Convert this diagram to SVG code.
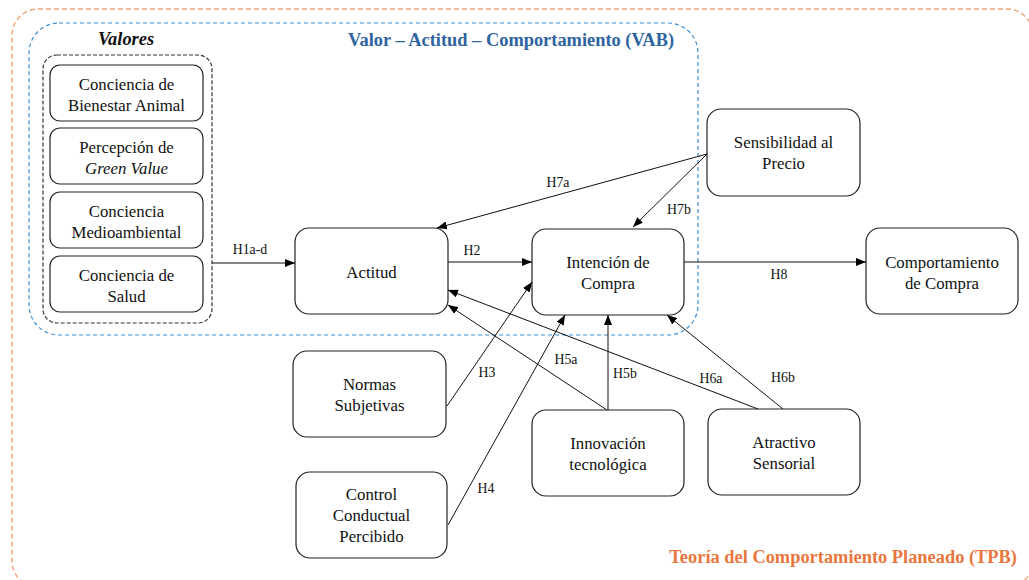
<svg xmlns="http://www.w3.org/2000/svg" width="1029" height="580" viewBox="0 0 1029 580">
  <defs>
    <marker id="arrow" viewBox="0 0 10 8" refX="10" refY="4" markerWidth="10" markerHeight="8" markerUnits="userSpaceOnUse" orient="auto">
      <path d="M0,0 L10,4 L0,8 Z" fill="#000"/>
    </marker>
    <style>
      .node rect { fill: #fff; stroke: #222; stroke-width: 1.2; }
      .node text { font-family: "Liberation Serif", "Times New Roman", serif; font-size: 16.8px; fill: #111; text-anchor: middle; }
      .edge { stroke: #111; stroke-width: 1; fill: none; marker-end: url(#arrow); }
      .lbl { font-family: "Liberation Serif", "Times New Roman", serif; font-size: 13.8px; fill: #111; text-anchor: middle; }
      .frame-tpb { fill: none; stroke: #F4A273; stroke-width: 1.4; stroke-dasharray: 5 3; }
      .frame-vab { fill: none; stroke: #3D8FD6; stroke-width: 1.2; stroke-dasharray: 4 3; }
      .frame-val { fill: none; stroke: #333; stroke-width: 1.2; stroke-dasharray: 4 2; }
      .title { font-family: "Liberation Serif", "Times New Roman", serif; font-weight: bold; font-size: 18.4px; }
    </style>
  </defs>

  <rect width="1029" height="580" fill="#fff"/>

  <!-- Theory frames -->
  <g id="frames">
    <rect class="frame-tpb" x="12" y="9" width="1021" height="578" rx="26"/>
    <rect class="frame-vab" x="29" y="23" width="669" height="312" rx="30"/>
    <rect class="frame-val" x="43" y="55" width="169" height="268" rx="14"/>
    <text class="title" x="126" y="45" text-anchor="middle" font-style="italic" fill="#111">Valores</text>
    <text class="title" x="511" y="46" text-anchor="middle" fill="#2E649F">Valor – Actitud – Comportamiento (VAB)</text>
    <text class="title" x="1017" y="563" text-anchor="end" fill="#E9773D">Teoría del Comportamiento Planeado (TPB)</text>
  </g>

  <!-- Value constructs -->
  <g id="bienestar-animal" class="node">
    <rect x="50" y="65" width="153" height="56" rx="10"/>
    <text x="126.5" y="90">Conciencia de</text>
    <text x="126.5" y="111">Bienestar Animal</text>
  </g>
  <g id="green-value" class="node">
    <rect x="50" y="128" width="153" height="56" rx="10"/>
    <text x="126.5" y="153">Percepción de</text>
    <text x="126.5" y="174" font-style="italic">Green Value</text>
  </g>
  <g id="medioambiental" class="node">
    <rect x="50" y="192" width="153" height="56" rx="10"/>
    <text x="126.5" y="217">Conciencia</text>
    <text x="126.5" y="238">Medioambiental</text>
  </g>
  <g id="salud" class="node">
    <rect x="50" y="256" width="153" height="56" rx="10"/>
    <text x="126.5" y="281">Conciencia de</text>
    <text x="126.5" y="302">Salud</text>
  </g>

  <!-- Core constructs -->
  <g id="actitud" class="node">
    <rect x="295" y="228" width="153" height="86" rx="14"/>
    <text x="371.5" y="278">Actitud</text>
  </g>
  <g id="intencion" class="node">
    <rect x="532" y="229" width="152" height="86" rx="14"/>
    <text x="608" y="268">Intención de</text>
    <text x="608" y="289">Compra</text>
  </g>
  <g id="sensibilidad" class="node">
    <rect x="707" y="109" width="153" height="87" rx="14"/>
    <text x="783.5" y="148">Sensibilidad al</text>
    <text x="783.5" y="169">Precio</text>
  </g>
  <g id="comportamiento" class="node">
    <rect x="866" y="228" width="152" height="86" rx="14"/>
    <text x="942" y="268">Comportamiento</text>
    <text x="942" y="289">de Compra</text>
  </g>
  <g id="normas" class="node">
    <rect x="293" y="351" width="153" height="86" rx="14"/>
    <text x="369.5" y="390">Normas</text>
    <text x="369.5" y="411">Subjetivas</text>
  </g>
  <g id="control" class="node">
    <rect x="296" y="472" width="151" height="86" rx="14"/>
    <text x="371.5" y="500">Control</text>
    <text x="371.5" y="521">Conductual</text>
    <text x="371.5" y="542">Percibido</text>
  </g>
  <g id="innovacion" class="node">
    <rect x="532" y="410" width="152" height="86" rx="14"/>
    <text x="608" y="449">Innovación</text>
    <text x="608" y="470">tecnológica</text>
  </g>
  <g id="atractivo" class="node">
    <rect x="708" y="409" width="152" height="86" rx="14"/>
    <text x="784" y="448">Atractivo</text>
    <text x="784" y="469">Sensorial</text>
  </g>

  <!-- Hypothesised paths -->
  <g id="connectors">
    <line class="edge" x1="212" y1="263" x2="295" y2="263"/>
    <line class="edge" x1="448" y1="262" x2="532" y2="262"/>
    <line class="edge" x1="684" y1="262" x2="866" y2="262"/>
    <line class="edge" x1="707" y1="154" x2="437" y2="228"/>
    <line class="edge" x1="707" y1="154" x2="633" y2="227"/>
    <line class="edge" x1="447" y1="406" x2="532" y2="282"/>
    <line class="edge" x1="448" y1="525" x2="565" y2="315"/>
    <line class="edge" x1="607" y1="410" x2="448" y2="305"/>
    <line class="edge" x1="608" y1="410" x2="608" y2="315"/>
    <line class="edge" x1="758" y1="409" x2="448" y2="290"/>
    <line class="edge" x1="783" y1="409" x2="667" y2="315"/>

    <text class="lbl" x="250" y="254">H1a-d</text>
    <text class="lbl" x="472" y="255">H2</text>
    <text class="lbl" x="779" y="279">H8</text>
    <text class="lbl" x="558" y="187">H7a</text>
    <text class="lbl" x="679" y="214">H7b</text>
    <text class="lbl" x="487" y="377">H3</text>
    <text class="lbl" x="486" y="493">H4</text>
    <text class="lbl" x="566" y="364">H5a</text>
    <text class="lbl" x="625" y="378">H5b</text>
    <text class="lbl" x="711" y="383">H6a</text>
    <text class="lbl" x="783" y="382">H6b</text>
  </g>
</svg>
